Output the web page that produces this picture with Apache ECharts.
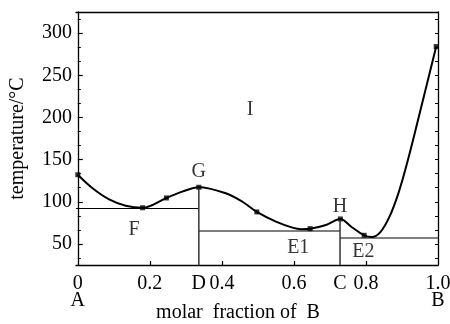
<!DOCTYPE html>
<html>
<head>
<meta charset="utf-8">
<script src="https://cdn.jsdelivr.net/npm/echarts@6/dist/echarts.min.js"></script>
<style>
  html, body { margin: 0; padding: 0; background: #fff; }
  #main { width: 450px; height: 324px; }
</style>
</head>
<body>
<div id="main"></div>
<script>
// liquidus curve (molar fraction of B -> temperature)
var curveX = [0, 0.041, 0.087, 0.133, 0.18, 0.246, 0.29, 0.336, 0.411, 0.457, 0.497, 0.55, 0.596, 0.62, 0.645, 0.689, 0.729, 0.76, 0.795, 0.816, 0.84, 0.865, 0.89, 0.915, 0.955, 0.995];
var curveY = [132, 116, 102.8, 95.3, 92.9, 104.5, 112, 117.2, 110, 100, 87.9, 76.4, 69.3, 67.5, 68.1, 72.5, 79.6, 70.1, 60.2, 58.2, 64, 82, 110, 147, 215, 284];

// measured points (square markers)
var pointX = [0, 0.18, 0.246, 0.336, 0.497, 0.645, 0.729, 0.795, 0.995];
var pointY = [132, 92.9, 104.5, 117.2, 87.9, 68.1, 79.6, 60.2, 284];

// horizontal (eutectic) and vertical (compound) lines
var lineF  = [[-0.005, 92], [0.336, 92]];
var lineE1 = [[0.336, 65.3], [0.728, 65.3]];
var lineE2 = [[0.728, 57], [1, 57]];
var lineD  = [[0.336, 25], [0.336, 117.2]];
var lineC  = [[0.728, 25], [0.728, 79.6]];

// region / point letters
var noteText = ['I', 'G', 'F', 'H', 'E1', 'E2'];
var noteX = [0.478, 0.336, 0.156, 0.728, 0.612, 0.793];
var noteY = [209, 135.3, 66.5, 93.8, 45.1, 41.2];

// axis ticks and labels
var yTicks = [50, 100, 150, 200, 250, 300];
var yMinor = [33.3, 66.7, 83.3, 116.7, 133.3, 166.7, 183.3, 216.7, 233.3, 266.7, 283.3, 316.7];
var xTicks = [0.2, 0.4, 0.6, 0.8];
var xLabelVals = [0, 0.2, 0.336, 0.4, 0.6, 0.728, 0.8, 1.0];
var xLabelText = ['0\nA', '0.2', 'D', '0.4', '0.6', 'C', '0.8', '1.0\nB'];

var font = "'Liberation Serif', 'Times New Roman', serif";

function pairs(xs, ys) {
  return xs.map(function (x, i) { return [x, ys[i]]; });
}

var chart = echarts.init(document.getElementById('main'));

var yBase = { type: 'value', min: 25, max: 325, splitLine: { show: false } };
var xBase = { type: 'value', min: -0.005, max: 1, splitLine: { show: false } };
var axisStroke = { color: '#000', width: 1.3 };

chart.setOption({
  animation: false,
  backgroundColor: '#fff',
  textStyle: { fontFamily: font },
  grid: {
    left: 76, right: 12, top: 12, bottom: 59,
    outerBoundsMode: 'none', containLabel: false
  },
  xAxis: [
    Object.assign({}, xBase, {
      position: 'bottom',
      axisLine: { lineStyle: axisStroke },
      axisTick: { customValues: xTicks, inside: true, length: 4, lineStyle: { color: '#000', width: 1.2 } },
      axisLabel: {
        customValues: xLabelVals, margin: 10, color: '#000', fontSize: 20, lineHeight: 17, fontFamily: font,
        formatter: function (v) {
          for (var i = 0; i < xLabelVals.length; i++) {
            if (Math.abs(xLabelVals[i] - v) < 1e-6) return xLabelText[i];
          }
          return '';
        }
      },
      name: 'molar  fraction of  B', nameLocation: 'middle', nameGap: 38, nameMoveOverlap: false,
      nameTextStyle: { color: '#000', fontSize: 20, fontFamily: font, padding: [0, 38, 0, 0] }
    }),
    Object.assign({}, xBase, {
      position: 'top',
      axisLine: { show: true, lineStyle: axisStroke },
      axisTick: { show: false },
      axisLabel: { show: false }
    })
  ],
  yAxis: [
    Object.assign({}, yBase, {
      position: 'left',
      axisLine: { show: true, lineStyle: axisStroke },
      axisTick: { customValues: yTicks, inside: true, length: 5, lineStyle: { color: '#000', width: 1.2 } },
      axisLabel: { customValues: yTicks, margin: 4, color: '#000', fontSize: 20, fontFamily: font },
      name: 'temperature/°C', nameLocation: 'middle', nameGap: 48, nameMoveOverlap: false,
      nameTextStyle: { color: '#000', fontSize: 20, fontFamily: font }
    }),
    Object.assign({}, yBase, {
      position: 'left',
      axisLine: { show: false },
      axisTick: { customValues: yMinor, inside: true, length: 3, lineStyle: { color: '#000', width: 1 } },
      axisLabel: { show: false }
    }),
    Object.assign({}, yBase, {
      position: 'right',
      axisLine: { show: true, lineStyle: axisStroke },
      axisTick: { customValues: yTicks.concat(yMinor), inside: true, length: 3, lineStyle: { color: '#000', width: 1 } },
      axisLabel: { show: false }
    })
  ],
  series: [
    { type: 'line', data: lineF, symbol: 'none', lineStyle: { color: '#000', width: 1.2 } },
    { type: 'line', data: lineE1, symbol: 'none', lineStyle: { color: '#000', width: 1.2 } },
    { type: 'line', data: lineE2, symbol: 'none', lineStyle: { color: '#000', width: 1.2 } },
    { type: 'line', data: lineD, symbol: 'none', lineStyle: { color: '#333', width: 1.5 } },
    { type: 'line', data: lineC, symbol: 'none', lineStyle: { color: '#333', width: 1.5 } },
    {
      type: 'line', data: pairs(curveX, curveY), smooth: 0.35, symbol: 'none',
      lineStyle: { color: '#000', width: 2 }
    },
    {
      type: 'scatter', data: pairs(pointX, pointY), symbol: 'rect', symbolSize: 5,
      itemStyle: { color: '#000' }
    },
    {
      type: 'scatter', symbolSize: 0,
      data: noteText.map(function (t, i) { return { name: t, value: [noteX[i], noteY[i]] }; }),
      label: {
        show: true, position: 'inside', formatter: '{b}',
        color: '#000', fontSize: 20, fontFamily: font
      }
    }
  ]
});
</script>
</body>
</html>
